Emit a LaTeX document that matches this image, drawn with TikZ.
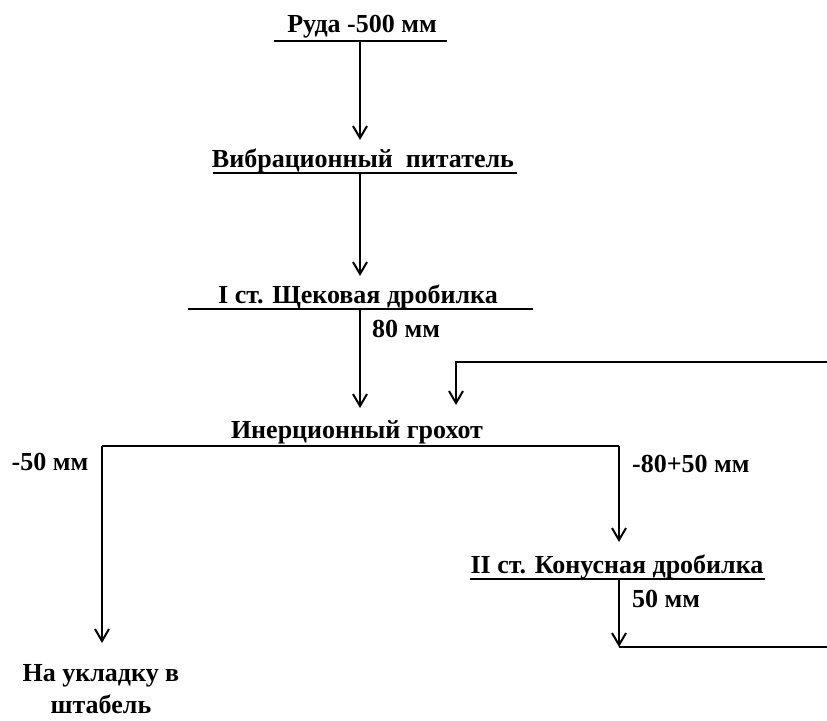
\documentclass[tikz,border=0pt]{standalone}
\usepackage{fontspec}
\setmainfont{Liberation Serif}
\usetikzlibrary{arrows.meta, positioning}

\begin{document}
\begin{tikzpicture}[x=1pt, y=-1pt,
    lbl/.style={font=\fontsize{26}{32}\selectfont\bfseries, inner sep=0pt, anchor=base},
    bar/.style={line width=2.6pt},
    ln/.style={line width=2pt},
    arr/.style={-{Straight Barb[length=12pt, width=14pt, line width=2pt]}, line width=2pt}
  ]
    \useasboundingbox (0,0) rectangle (827,720);
    % labels
    \node[lbl] (ore)    at (362,32)  {Руда -500 мм};
    \node[lbl] (feeder) at (363,167) {Вибрационный\ \ питатель};
    \node[lbl] (jaw)    at (358,303) {I ст. Щековая дробилка};
    \node[lbl, anchor=base west] (p80) at (372,337) {80 мм};
    \node[lbl] (screen) at (357,438) {Инерционный грохот};
    \node[lbl] (m50)    at (50,470)  {-50 мм};
    \node[lbl, anchor=base west] (m80) at (632,472) {-80+50 мм};
    \node[lbl] (cone)   at (617,573) {II ст. Конусная дробилка};
    \node[lbl, anchor=base west] (p50) at (632,607) {50 мм};
    \node[lbl, anchor=north, align=center] (pile) at (101,664) {На укладку в\\штабель};
    % bars and junctions
    \coordinate (oreS)  at (360,41);
    \coordinate (feedT) at (360,140);
    \coordinate (feedS) at (360,173);
    \coordinate (jawT)  at (360,276);
    \coordinate (jawS)  at (360,309);
    \coordinate (scrT)  at (360,408);
    \coordinate (retA)  at (827,362);
    \coordinate (retB)  at (456,362);
    \coordinate (retT)  at (456,405);
    \coordinate (scrL)  at (102,446);
    \coordinate (scrR)  at (619,446);
    \coordinate (pileT) at (102,643);
    \coordinate (coneT) at (619,542);
    \coordinate (coneS) at (619,579);
    \coordinate (outT)  at (619,647);
    \coordinate (outR)  at (827,647);
    \draw[bar] (274,41) -- (447,41);
    \draw[bar] (213,173) -- (517,173);
    \draw[ln] (188,309) -- (533,309);
    \draw[bar] (470,579) -- (765,579);
    % flows
    \draw[arr] (oreS) -- (feedT);
    \draw[arr] (feedS) -- (jawT);
    \draw[arr] (jawS) -- (scrT);
    \draw[arr] (retA) -- (retB) -- (retT);
    \draw[ln] (scrL) -- (scrR);
    \draw[arr] (scrL) -- (pileT);
    \draw[arr] (scrR) -- (coneT);
    \draw[arr] (coneS) -- (outT);
    \draw[ln] (outT) -- (outR);
\end{tikzpicture}
\end{document}
